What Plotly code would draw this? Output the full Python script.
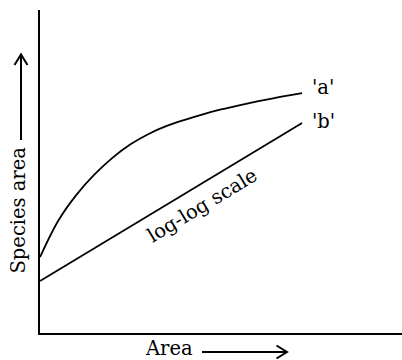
import plotly.graph_objects as go

# Data (arbitrary units; x range 0-10, y range 0-10)
area_a = [0, 0.5, 1.0, 1.5, 2.0, 2.5, 3.0, 3.5, 4.0, 4.5, 5.0, 5.5, 6.0, 6.5, 7.0, 7.24]
species_a = [2.35, 3.47, 4.27, 4.90, 5.42, 5.84, 6.16, 6.41, 6.60, 6.77, 6.92, 7.05, 7.17, 7.28, 7.38, 7.43]
area_b = [0, 7.24]
species_b = [1.61, 6.50]
curve_labels = ["'a'", "'b'"]

W, H = 402, 360
ML, MR, MT, MB = 40, 0, 10, 27
PW, PH = W - ML - MR, H - MT - MB
FONT = "DejaVu Serif"


def px(x):
    return (x - ML) / PW


def py(y):
    return (H - MB - y) / PH


fig = go.Figure()
line_style = dict(color="black", width=1.8)
fig.add_trace(go.Scatter(x=area_a, y=species_a, mode="lines",
                         line=dict(shape="spline", smoothing=1.0, **line_style),
                         hoverinfo="skip", showlegend=False))
fig.add_trace(go.Scatter(x=area_b, y=species_b, mode="lines",
                         line=line_style, hoverinfo="skip", showlegend=False))

font = dict(family=FONT, size=19.5, color="black")
annotations = [
    dict(x=area_a[-1], y=species_a[-1], xref="x", yref="y", text=curve_labels[0],
         showarrow=False, xanchor="left", yanchor="middle", xshift=8, yshift=6, font=font),
    dict(x=area_b[-1], y=species_b[-1], xref="x", yref="y", text=curve_labels[1],
         showarrow=False, xanchor="left", yanchor="middle", xshift=8, yshift=2, font=font),
    dict(x=4.48, y=3.96, xref="x", yref="y", text="log-log scale", textangle=-31,
         showarrow=False, xanchor="center", yanchor="middle", font=font),
    dict(x=px(17.5), y=py(210), xref="paper", yref="paper", text="Species area",
         textangle=-90, showarrow=False, xanchor="center", yanchor="middle", font=font),
    dict(x=px(169), y=py(349), xref="paper", yref="paper", text="Area",
         showarrow=False, xanchor="center", yanchor="middle", borderpad=0, font=font),
]

arrow_line = dict(color="black", width=2)
shapes = [
    # vertical arrow next to y label
    dict(type="line", xref="paper", yref="paper", x0=px(21), x1=px(21), y0=py(140), y1=py(55),
         line=arrow_line),
    dict(type="path", xref="paper", yref="paper",
         path=f"M {px(14.5)} {py(65)} L {px(21)} {py(54.5)} L {px(27.5)} {py(65)}",
         line=arrow_line),
    # horizontal arrow next to x label
    dict(type="line", xref="paper", yref="paper", x0=px(202), x1=px(286), y0=py(352), y1=py(352),
         line=arrow_line),
    dict(type="path", xref="paper", yref="paper",
         path=f"M {px(276.5)} {py(345.5)} L {px(287)} {py(352)} L {px(276.5)} {py(358.5)}",
         line=arrow_line),
]

axis_common = dict(showline=True, linecolor="black", linewidth=2, showgrid=False,
                   zeroline=False, showticklabels=False, ticks="", fixedrange=True)
fig.update_layout(
    width=W, height=H,
    margin=dict(l=ML, r=MR, t=MT, b=MB),
    paper_bgcolor="white", plot_bgcolor="white",
    xaxis=dict(range=[0, 10], **axis_common),
    yaxis=dict(range=[0, 10], **axis_common),
    annotations=annotations,
    shapes=shapes,
    showlegend=False,
)

fig.write_html(
    "out.html",
    config={"displayModeBar": False, "staticPlot": True},
    post_script="document.body.style.margin='0';document.body.style.padding='0';document.body.style.overflow='hidden';",
)
